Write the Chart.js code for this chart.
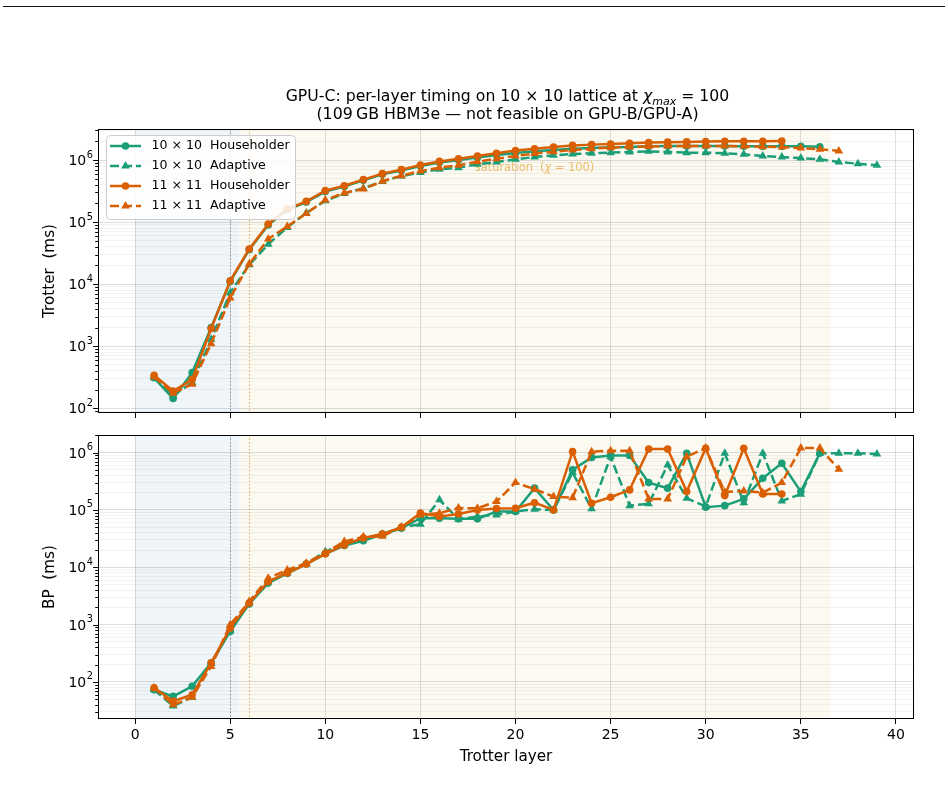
<!DOCTYPE html>
<html><head><meta charset="utf-8">
<script src="https://cdn.jsdelivr.net/npm/chart.js@4"></script>
<style>
html,body{margin:0;padding:0;background:#fff;}
#wrap{position:relative;width:948px;height:807px;overflow:hidden;background:#fff;}
#top{position:absolute;left:0;top:0;}
#bot{position:absolute;left:0;top:425px;}
#rule{position:absolute;left:3px;top:6px;width:942px;height:1px;background:#111;}
</style></head><body>
<div id="wrap"><div id="rule"></div>
<canvas id="top" width="948" height="425"></canvas>
<canvas id="bot" width="948" height="382"></canvas></div>
<script>
// ---------------- data ----------------
const layers = [1,2,3,4,5,6,7,8,9,10,11,12,13,14,15,16,17,18,19,20,21,22,23,24,25,26,27,28,29,30,31,32,33,34,35,36,37,38,39];
const seriesNames = ['10 × 10  Householder','10 × 10  Adaptive','11 × 11  Householder','11 × 11  Adaptive'];

// Trotter time (ms)
const trotterHH10 = [310,144,375,2000,11000,36000,90000,158000,210000,310000,375000,470000,590000,680000,800000,910000,1000000,1100000,1200000,1300000,1380000,1450000,1520000,1560000,1600000,1620000,1660000,1680000,1680000,1680000,1680000,1670000,1660000,1660000,1660000,1640000];
const trotterAd10 = [310,160,260,1300,7300,20500,44000,82000,140000,220000,290000,350000,450000,552000,627000,708000,754000,851000,929000,1026000,1117000,1190000,1250000,1280000,1315000,1346000,1380000,1350000,1315000,1315000,1280000,1236000,1160000,1117000,1076000,1026000,929000,871000,822000];
const trotterHH11 = [340,190,290,1930,11300,36900,93000,162000,216000,321000,386000,483000,603000,700000,830000,950000,1050000,1160000,1280000,1420000,1520000,1620000,1720000,1770000,1810000,1860000,1910000,1940000,1960000,1980000,2000000,2000000,2010000,2020000];
const trotterAd11 = [320,175,245,1100,6000,21100,53400,85000,138000,227000,295000,342000,454000,560000,665000,754000,822000,942000,1050000,1160000,1270000,1360000,1450000,1520000,1580000,1620000,1650000,1680000,1680000,1680000,1680000,1660000,1640000,1620000,1560000,1490000,1400000];

// BP time (ms)
const bpHH10 = [73,56,84,215,760,2300,5300,7800,11400,17200,24000,29000,37500,48000,72000,72000,70000,70000,94000,94000,240000,100000,500000,820000,890000,890000,300000,240000,975000,112000,119000,156000,358000,653000,209000,975000];
const bpAd10 = [73,38,54,210,800,2400,5600,8000,11400,18800,25500,32000,37800,50000,56500,150000,69000,77000,82000,94000,103000,100000,450000,105000,850000,119000,128000,611000,160000,115000,975000,134000,975000,144000,188000,975000,975000,975000,950000];
const bpHH11 = [79,46,60,215,870,2380,5660,7950,11400,17200,24600,32500,38000,50000,88000,77000,85000,100000,106000,107000,134000,100000,1040000,131000,167000,224000,1160000,1160000,209000,1190000,178000,1190000,190000,190000];
const bpAd11 = [79,40,54,187,1000,2520,6450,9000,11800,18000,28200,34000,34700,50000,82000,88000,108000,107000,140000,300000,230000,171000,164000,1040000,1080000,1080000,155000,155000,850000,1200000,205000,215000,200000,300000,1200000,1200000,513000];

const xTicks = [0,5,10,15,20,25,30,35,40];
const memorySpan = [0,5.5];
const saturationSpan = [5.5,36.55];
const markerLines = [5,6];
const saturationLabelAt = [21, 760000];

// ---------------- styling ----------------
const FONT = "'DejaVu Sans'";
Chart.defaults.font.family = FONT;
Chart.defaults.color = '#000';
const GREEN = '#1b9e77', ORANGE = '#d95f02';
const DASH = [9,4];
const XMIN = -1.95, XMAX = 40.95;
const LABEL_SIZE = 15.2;

function isDecade(v){ const l=Math.log10(v); return Math.abs(l-Math.round(l))<1e-9; }
function logTicks(min,max){
  const out=[];
  for(let e=Math.floor(Math.log10(min)); e<=Math.ceil(Math.log10(max)); e++){
    for(let k=1;k<=9;k++){ const v=k*Math.pow(10,e); if(v>=min*0.999999 && v<=max*1.000001) out.push(v); }
  }
  return out;
}
function pts(vals){ return vals.map((v,i)=>({x:layers[i], y:v})); }
function ds(label, vals, color, dashed, order){
  return {label, data:pts(vals), borderColor:color, backgroundColor:color,
    borderWidth:2.5, borderDash: dashed?DASH:[], pointStyle: dashed?'triangle':'circle',
    pointRadius: dashed?5:3.8, pointBorderWidth:0, pointBackgroundColor:color,
    order, tension:0};
}
function fontStr(s){ return (s.italic?'italic ':'') + s.size + 'px ' + FONT; }
function drawRich(ctx, segs, cx, baseline){
  let w=0;
  segs.forEach(s=>{ ctx.font=fontStr(s); s.w=ctx.measureText(s.t).width; w+=s.w; });
  let x=cx-w/2; ctx.textAlign='left'; ctx.textBaseline='alphabetic';
  segs.forEach(s=>{ ctx.font=fontStr(s); ctx.fillText(s.t, x, baseline+(s.dy||0)); x+=s.w; });
}

const decorPlugin = {
  id:'decor',
  beforeDraw(chart){
    const {ctx, chartArea:a, scales:{x}} = chart;
    ctx.save(); ctx.beginPath(); ctx.rect(a.left,a.top,a.right-a.left,a.bottom-a.top); ctx.clip();
    const fill=(r,c)=>{ const x0=x.getPixelForValue(r[0]), x1=x.getPixelForValue(r[1]); ctx.fillStyle=c; ctx.fillRect(x0,a.top,x1-x0,a.bottom-a.top); };
    fill(memorySpan,'rgb(240,245,250)');
    fill(saturationSpan,'rgb(252,249,241)');
    ctx.restore();
  },
  beforeDatasetsDraw(chart){
    const {ctx, chartArea:a, scales:{x}} = chart;
    ctx.save();
    ctx.lineWidth=1; ctx.setLineDash([1.5,2]);
    const cols=['rgba(130,130,130,0.75)','rgba(205,165,80,0.9)'];
    markerLines.forEach((v,i)=>{ const px=Math.round(x.getPixelForValue(v))+0.5; ctx.strokeStyle=cols[i]; ctx.beginPath(); ctx.moveTo(px,a.top); ctx.lineTo(px,a.bottom); ctx.stroke(); });
    ctx.restore();
  },
  afterDraw(chart){
    const {ctx, chartArea:a, scales:{y}} = chart;
    ctx.save();
    ctx.strokeStyle='#000'; ctx.lineWidth=1; ctx.setLineDash([]);
    ctx.strokeRect(Math.round(a.left)+0.5, Math.round(a.top)+0.5, Math.round(a.right-a.left)-1, Math.round(a.bottom-a.top)-1);
    y.ticks.forEach(t=>{
      const py=Math.round(y.getPixelForValue(t.value))+0.5;
      const len=isDecade(t.value)?4.9:2.8;
      ctx.beginPath(); ctx.moveTo(a.left-len, py); ctx.lineTo(a.left, py); ctx.stroke();
    });
    ctx.fillStyle='#000';
    y.ticks.forEach(t=>{
      if(!isDecade(t.value)) return;
      const py=y.getPixelForValue(t.value);
      const e=String(Math.round(Math.log10(t.value)));
      const right=93;
      ctx.textAlign='right'; ctx.textBaseline='alphabetic';
      ctx.font='9.8px '+FONT; const ew=ctx.measureText(e).width;
      ctx.fillText(e, right, py-2.5);
      ctx.font='14px '+FONT;
      ctx.fillText('10', right-ew-0.5, py+5.1);
    });
    ctx.restore();
  }
};

const topExtras = {
  id:'topExtras',
  beforeDatasetsDraw(chart){
    const {ctx, scales:{x,y}} = chart;
    ctx.save(); ctx.fillStyle='rgb(232,190,105)';
    drawRich(ctx,[{t:'saturation  (',size:11.4},{t:'χ',size:11.4,italic:true},{t:' = 100)',size:11.4}],
      x.getPixelForValue(saturationLabelAt[0]), y.getPixelForValue(saturationLabelAt[1])+4);
    ctx.restore();
  },
  afterDraw(chart){
    const ctx=chart.ctx;
    ctx.save(); ctx.fillStyle='#000';
    drawRich(ctx,[{t:'GPU-C: per-layer timing on 10 × 10 lattice at ',size:15.7},{t:'χ',size:15.7,italic:true},{t:'max',size:11,italic:true,dy:3.5},{t:' = 100',size:15.7}],507.5,101);
    drawRich(ctx,[{t:'(109\u2009GB HBM3e — not feasible on GPU-B/GPU-A)',size:15.8}],507.5,119);
    const bx=106.5, by=135.5, bw=189, bh=84, r=4;
    ctx.beginPath();
    ctx.moveTo(bx+r,by); ctx.lineTo(bx+bw-r,by); ctx.quadraticCurveTo(bx+bw,by,bx+bw,by+r);
    ctx.lineTo(bx+bw,by+bh-r); ctx.quadraticCurveTo(bx+bw,by+bh,bx+bw-r,by+bh);
    ctx.lineTo(bx+r,by+bh); ctx.quadraticCurveTo(bx,by+bh,bx,by+bh-r);
    ctx.lineTo(bx,by+r); ctx.quadraticCurveTo(bx,by,bx+r,by); ctx.closePath();
    ctx.fillStyle='rgba(255,255,255,0.85)'; ctx.fill();
    ctx.strokeStyle='#cccccc'; ctx.lineWidth=1; ctx.stroke();
    chart.data.datasets.forEach((d,i)=>{
      const yy=146+20*i;
      ctx.strokeStyle=d.borderColor; ctx.lineWidth=2.5; ctx.setLineDash(d.borderDash);
      ctx.beginPath(); ctx.moveTo(110,yy); ctx.lineTo(141,yy); ctx.stroke();
      ctx.setLineDash([]);
      ctx.fillStyle=d.borderColor; ctx.beginPath();
      if(d.pointStyle==='circle'){ ctx.arc(125.5,yy,d.pointRadius,0,Math.PI*2); }
      else { const R=d.pointRadius; ctx.moveTo(125.5,yy-R); ctx.lineTo(125.5+R*0.866,yy+R*0.5); ctx.lineTo(125.5-R*0.866,yy+R*0.5); ctx.closePath(); }
      ctx.fill();
      ctx.fillStyle='#000'; ctx.font='12.6px '+FONT; ctx.textAlign='left'; ctx.textBaseline='middle';
      ctx.fillText(d.label,151.5,yy);
    });
    ctx.restore();
  }
};

function makeChart(id, datasets, yMin, yMax, yTitle, padTop, xHeight, showX, extra){
  return new Chart(document.getElementById(id), {
    type:'line',
    data:{datasets},
    options:{
      responsive:false, animation:false, devicePixelRatio:1, events:[],
      layout:{padding:{top:padTop,left:0,right:34,bottom:0}},
      plugins:{legend:{display:false}, tooltip:{enabled:false}, title:{display:false}},
      scales:{
        x:{type:'linear', min:XMIN, max:XMAX,
           afterBuildTicks:s=>{ s.ticks=xTicks.map(v=>({value:v})); },
           afterFit:s=>{ s.height=xHeight; },
           border:{display:false},
           grid:{color:'rgba(0,0,0,0.12)', lineWidth:1, tickLength:5, tickColor:'#000', drawTicks:true},
           ticks:{display:true, autoSkip:false, maxRotation:0, padding:3, font:{size:14, family:FONT}, color:'#000',
                  callback:v=> showX ? String(v) : ''},
           title:{display:showX, text:'Trotter layer', font:{size:LABEL_SIZE,family:FONT}, color:'#000', padding:{top:0,bottom:41}}
        },
        y:{type:'logarithmic', min:yMin, max:yMax,
           afterBuildTicks:s=>{ s.ticks=logTicks(yMin,yMax).map(v=>({value:v})); },
           afterFit:s=>{ s.width=98; },
           border:{display:false},
           grid:{drawTicks:false, lineWidth:1,
                 color:c=> (c.tick && isDecade(c.tick.value)) ? 'rgba(0,0,0,0.13)' : 'rgba(0,0,0,0.05)'},
           ticks:{display:false, autoSkip:false},
           title:{display:true, text:yTitle, font:{size:LABEL_SIZE,family:FONT}, color:'#000', padding:{top:41.4,bottom:0}}
        }
      }
    },
    plugins:[decorPlugin].concat(extra||[])
  });
}

const topSets = [
  ds(seriesNames[0], trotterHH10, GREEN, false, 4),
  ds(seriesNames[1], trotterAd10, GREEN, true, 3),
  ds(seriesNames[2], trotterHH11, ORANGE, false, 2),
  ds(seriesNames[3], trotterAd11, ORANGE, true, 1)
];
const botSets = [
  ds(seriesNames[0], bpHH10, GREEN, false, 4),
  ds(seriesNames[1], bpAd10, GREEN, true, 3),
  ds(seriesNames[2], bpHH11, ORANGE, false, 2),
  ds(seriesNames[3], bpAd11, ORANGE, true, 1)
];
makeChart('top', topSets, 84, 3.16e6, 'Trotter  (ms)', 129, 12, false, [topExtras]);
makeChart('bot', botSets, 22.6, 2.03e6, 'BP  (ms)', 10, 88, true, []);
</script>
</body></html>
